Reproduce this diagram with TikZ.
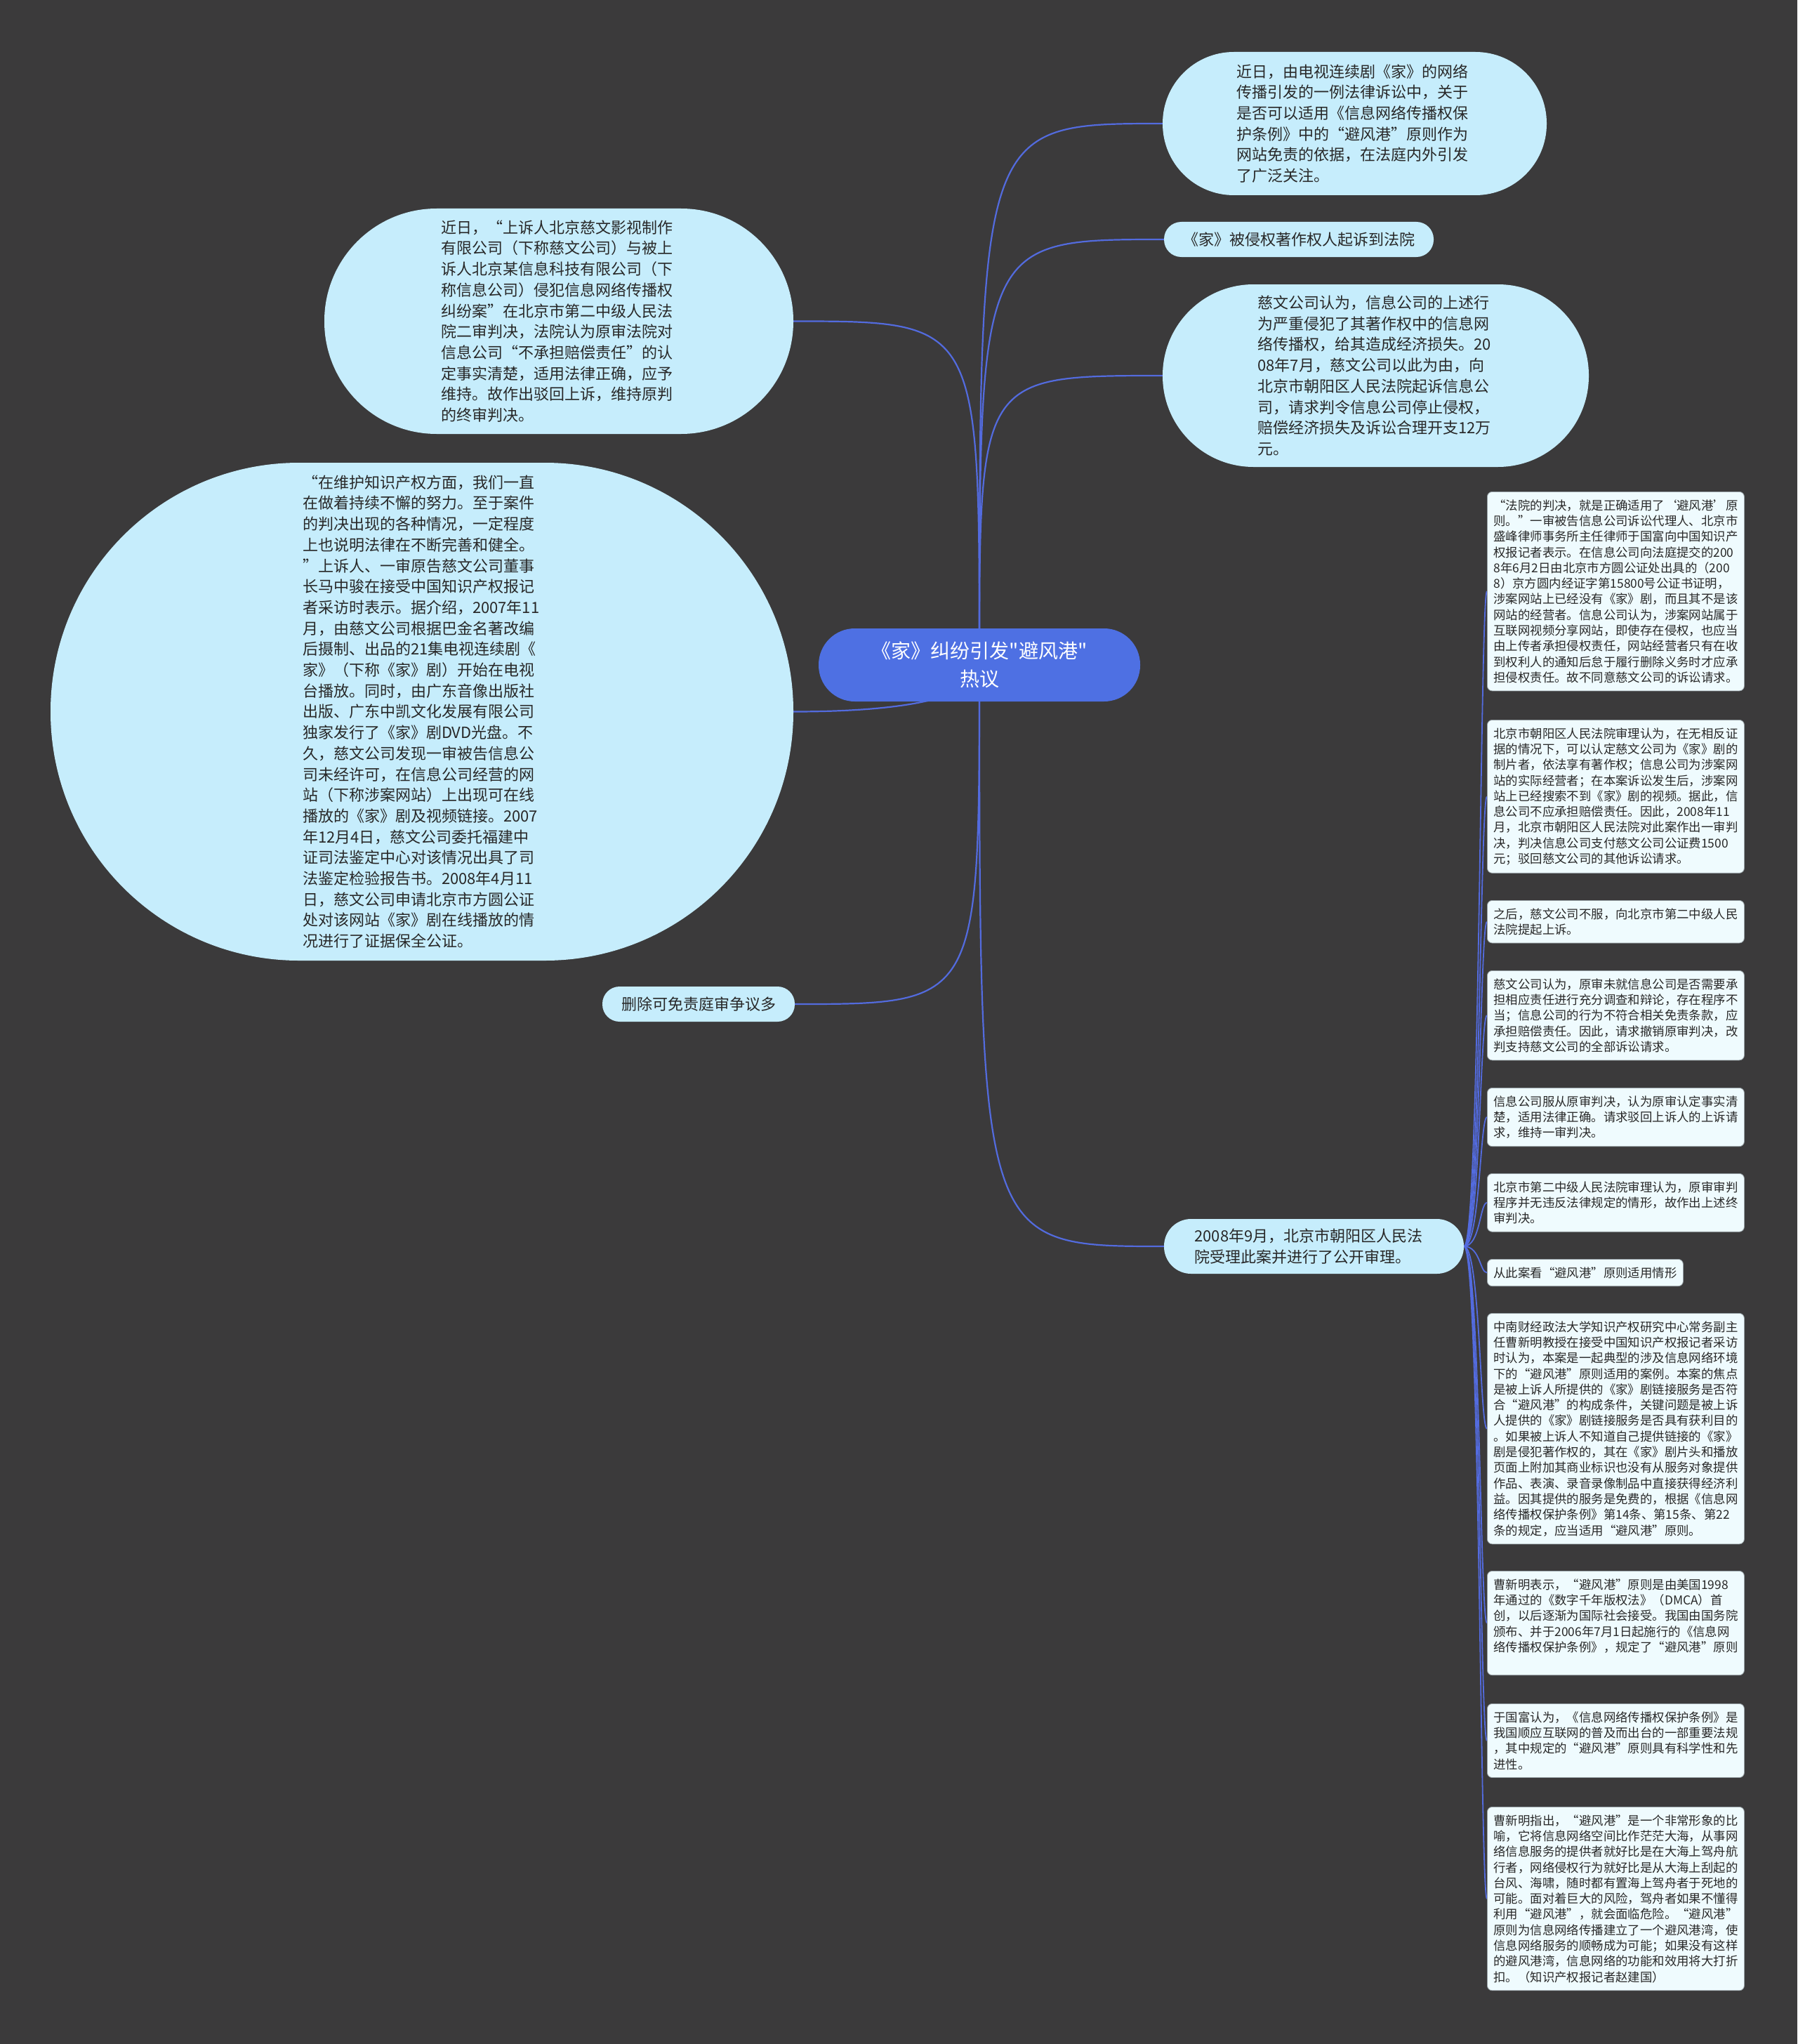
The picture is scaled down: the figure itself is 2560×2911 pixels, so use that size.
\documentclass[tikz,border=0pt]{standalone}
\usepackage{fontspec}
\setmainfont{Noto Sans CJK SC}
\newfontfamily\rawfont{Noto Sans CJK SC}
\usetikzlibrary{backgrounds}
\definecolor{bgc}{RGB}{59,58,59}
\definecolor{bubfill}{RGB}{198,237,252}
\definecolor{ctrfill}{RGB}{78,112,227}
\definecolor{connc}{RGB}{83,107,222}
\definecolor{boxfill}{RGB}{239,251,254}
\definecolor{boxline}{RGB}{150,160,165}
\definecolor{txt}{RGB}{40,40,40}
\tikzset{
  bubble/.style={fill=bubfill, text=txt, align=left, inner sep=0pt,
    font=\fontsize{22}{29.7}\selectfont},
  centerbox/.style={fill=ctrfill, text=white, align=center, inner sep=0pt,
    font=\rawfont\fontsize{28}{40}\selectfont},
  leafbox/.style={fill=boxfill, draw=boxline, line width=0.8pt, text=txt, align=left,
    rounded corners=7pt, inner xsep=9pt, inner ysep=11pt, anchor=north west,
    font=\fontsize{17.4}{22.3}\selectfont},
  conn/.style={draw=connc, line width=2.2pt}
}
\begin{document}
\begin{tikzpicture}[x=1pt,y=-1pt]
\useasboundingbox (0,0) rectangle (2560,2911);

% central node
\node[centerbox, minimum width=458pt, minimum height=104pt, rounded corners=51.5pt] (C) at (1395,947)
  {《家》纠纷引发"避风港"\\热议};

% right bubbles
\node[bubble, minimum width=547pt, minimum height=204pt, rounded corners=101.5pt, text width=336pt] (n1) at (1929.5,176)
  {近日，由电视连续剧《家》的网络\\传播引发的一例法律诉讼中，关于\\是否可以适用《信息网络传播权保\\护条例》中的“避风港”原则作为\\网站免责的依据，在法庭内外引发\\了广泛关注。};
\node[bubble, minimum width=384pt, minimum height=50pt, rounded corners=24.5pt] (n2) at (1850,341)
  {《家》被侵权著作权人起诉到法院};
\node[bubble, minimum width=607pt, minimum height=260pt, rounded corners=129.5pt, text width=336pt] (n3) at (1959.5,535)
  {慈文公司认为，信息公司的上述行\\为严重侵犯了其著作权中的信息网\\络传播权，给其造成经济损失。20\\08年7月，慈文公司以此为由，向\\北京市朝阳区人民法院起诉信息公\\司，请求判令信息公司停止侵权，\\赔偿经济损失及诉讼合理开支12万\\元。};
\node[bubble, minimum width=427pt, minimum height=78pt, rounded corners=38.5pt, text width=340pt] (R) at (1871.5,1775)
  {2008年9月，北京市朝阳区人民法\\院受理此案并进行了公开审理。};

% left bubbles
\node[bubble, minimum width=668pt, minimum height=321pt, rounded corners=160pt, text width=336pt] (L1) at (796,457.5)
  {近日，“上诉人北京慈文影视制作\\有限公司（下称慈文公司）与被上\\诉人北京某信息科技有限公司（下\\称信息公司）侵犯信息网络传播权\\纠纷案”在北京市第二中级人民法\\院二审判决，法院认为原审法院对\\信息公司“不承担赔偿责任”的认\\定事实清楚，适用法律正确，应予\\维持。故作出驳回上诉，维持原判\\的终审判决。};
\node[bubble, minimum width=1058pt, minimum height=709pt, rounded corners=354pt, text width=340pt] (L2) at (601,1013.5)
  {“在维护知识产权方面，我们一直\\在做着持续不懈的努力。至于案件\\的判决出现的各种情况，一定程度\\上也说明法律在不断完善和健全。\\”上诉人、一审原告慈文公司董事\\长马中骏在接受中国知识产权报记\\者采访时表示。据介绍，2007年11\\月，由慈文公司根据巴金名著改编\\后摄制、出品的21集电视连续剧《\\家》（下称《家》剧）开始在电视\\台播放。同时，由广东音像出版社\\出版、广东中凯文化发展有限公司\\独家发行了《家》剧DVD光盘。不\\久，慈文公司发现一审被告信息公\\司未经许可，在信息公司经营的网\\站（下称涉案网站）上出现可在线\\播放的《家》剧及视频链接。2007\\年12月4日，慈文公司委托福建中\\证司法鉴定中心对该情况出具了司\\法鉴定检验报告书。2008年4月11\\日，慈文公司申请北京市方圆公证\\处对该网站《家》剧在线播放的情\\况进行了证据保全公证。};
\node[bubble, minimum width=274pt, minimum height=50pt, rounded corners=24.5pt] (L3) at (995,1430)
  {删除可免责庭审争议多};

% leaf boxes on the right
\node[leafbox, text width=348pt] (ra) at (2118,700)
  {“法院的判决，就是正确适用了‘避风港’原\\则。”一审被告信息公司诉讼代理人、北京市\\盛峰律师事务所主任律师于国富向中国知识产\\权报记者表示。在信息公司向法庭提交的200\\8年6月2日由北京市方圆公证处出具的（200\\8）京方圆内经证字第15800号公证书证明，\\涉案网站上已经没有《家》剧，而且其不是该\\网站的经营者。信息公司认为，涉案网站属于\\互联网视频分享网站，即使存在侵权，也应当\\由上传者承担侵权责任，网站经营者只有在收\\到权利人的通知后怠于履行删除义务时才应承\\担侵权责任。故不同意慈文公司的诉讼请求。};
\node[leafbox, text width=348pt] (rb) at (2118,1025)
  {北京市朝阳区人民法院审理认为，在无相反证\\据的情况下，可以认定慈文公司为《家》剧的\\制片者，依法享有著作权；信息公司为涉案网\\站的实际经营者；在本案诉讼发生后，涉案网\\站上已经搜索不到《家》剧的视频。据此，信\\息公司不应承担赔偿责任。因此，2008年11\\月，北京市朝阳区人民法院对此案作出一审判\\决，判决信息公司支付慈文公司公证费1500\\元；驳回慈文公司的其他诉讼请求。};
\node[leafbox, text width=348pt] (rc) at (2118,1282)
  {之后，慈文公司不服，向北京市第二中级人民\\法院提起上诉。};
\node[leafbox, text width=348pt] (rd) at (2118,1382)
  {慈文公司认为，原审未就信息公司是否需要承\\担相应责任进行充分调查和辩论，存在程序不\\当；信息公司的行为不符合相关免责条款，应\\承担赔偿责任。因此，请求撤销原审判决，改\\判支持慈文公司的全部诉讼请求。};
\node[leafbox, text width=348pt] (re) at (2118,1549)
  {信息公司服从原审判决，认为原审认定事实清\\楚，适用法律正确。请求驳回上诉人的上诉请\\求，维持一审判决。};
\node[leafbox, text width=348pt] (rf) at (2118,1671)
  {北京市第二中级人民法院审理认为，原审审判\\程序并无违反法律规定的情形，故作出上述终\\审判决。};
\node[leafbox] (rg) at (2118,1793)
  {从此案看“避风港”原则适用情形};
\node[leafbox, text width=348pt] (rh) at (2118,1870)
  {中南财经政法大学知识产权研究中心常务副主\\任曹新明教授在接受中国知识产权报记者采访\\时认为，本案是一起典型的涉及信息网络环境\\下的“避风港”原则适用的案例。本案的焦点\\是被上诉人所提供的《家》剧链接服务是否符\\合“避风港”的构成条件，关键问题是被上诉\\人提供的《家》剧链接服务是否具有获利目的\\。如果被上诉人不知道自己提供链接的《家》\\剧是侵犯著作权的，其在《家》剧片头和播放\\页面上附加其商业标识也没有从服务对象提供\\作品、表演、录音录像制品中直接获得经济利\\益。因其提供的服务是免费的，根据《信息网\\络传播权保护条例》第14条、第15条、第22\\条的规定，应当适用“避风港”原则。};
\node[leafbox, text width=348pt] (ri) at (2118,2237)
  {曹新明表示，“避风港”原则是由美国1998\\年通过的《数字千年版权法》（DMCA）首\\创，以后逐渐为国际社会接受。我国由国务院\\颁布、并于2006年7月1日起施行的《信息网\\络传播权保护条例》，规定了“避风港”原则\\\mbox{}};
\node[leafbox, text width=348pt] (rj) at (2118,2426)
  {于国富认为，《信息网络传播权保护条例》是\\我国顺应互联网的普及而出台的一部重要法规\\，其中规定的“避风港”原则具有科学性和先\\进性。};
\node[leafbox, text width=348pt] (rk) at (2118,2573)
  {曹新明指出，“避风港”是一个非常形象的比\\喻，它将信息网络空间比作茫茫大海，从事网\\络信息服务的提供者就好比是在大海上驾舟航\\行者，网络侵权行为就好比是从大海上刮起的\\台风、海啸，随时都有置海上驾舟者于死地的\\可能。面对着巨大的风险，驾舟者如果不懂得\\利用“避风港”，就会面临危险。“避风港”\\原则为信息网络传播建立了一个避风港湾，使\\信息网络服务的顺畅成为可能；如果没有这样\\的避风港湾，信息网络的功能和效用将大打折\\扣。（知识产权报记者赵建国）};

\begin{scope}[on background layer]
  \fill[bgc] (0,0) rectangle (2560,2911);
  % main connectors
  \draw[conn] (C.center) .. controls (C.center |- n1.west) and (C.center |- n1.west) .. (n1.west);
  \draw[conn] (C.center) .. controls (C.center |- n2.west) and (C.center |- n2.west) .. (n2.west);
  \draw[conn] (C.center) .. controls (C.center |- n3.west) and (C.center |- n3.west) .. (n3.west);
  \draw[conn] (C.center) .. controls (C.center |- R.west) and (C.center |- R.west) .. (R.west);
  \draw[conn] (C.center) .. controls (C.center |- L1.east) and (C.center |- L1.east) .. (L1.east);
  \draw[conn] (C.center) .. controls ([yshift=-55pt]C.center) and ([xshift=120pt]L2.east) .. (L2.east);
  \draw[conn] (C.center) .. controls (C.center |- L3.east) and (C.center |- L3.east) .. (L3.east);
  % branch connectors to leaf boxes
  \foreach \b in {ra,rb,rc,rd,re,rf,rg,rh,ri,rj,rk}{
    \draw[conn, line width=1.8pt] (R.east) .. controls ([xshift=23pt]R.east) and ([xshift=-10pt]\b.west) .. (\b.west);
  }
\end{scope}
\end{tikzpicture}
\end{document}
